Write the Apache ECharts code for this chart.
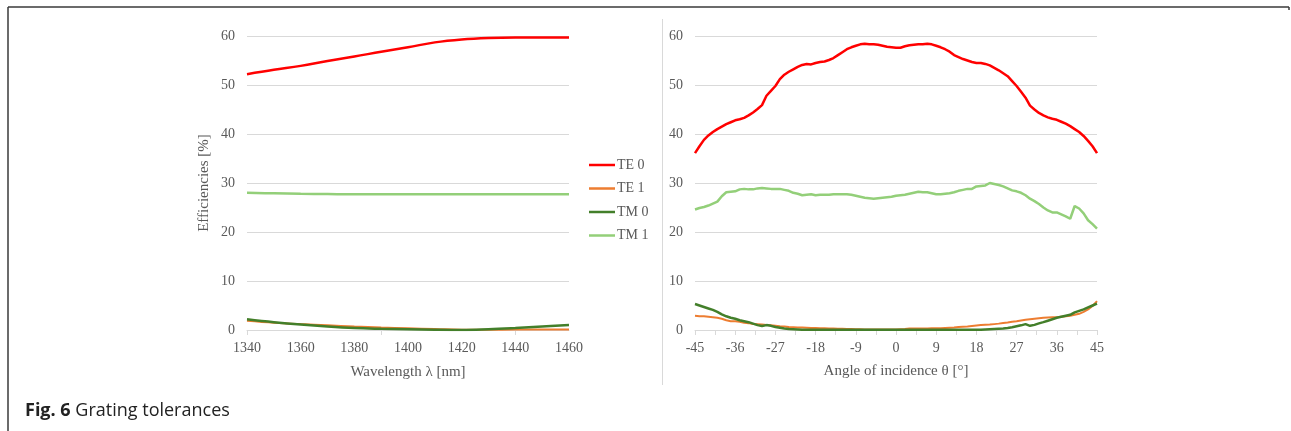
<!DOCTYPE html>
<html>
<head>
<meta charset="utf-8">
<script src="https://cdn.jsdelivr.net/npm/echarts@6/dist/echarts.min.js"></script>
<style>
    html, body { margin: 0; padding: 0; background: #fff; }
    #gratingChart { width: 1291px; height: 431px; }
</style>
</head>
<body>
<div id="gratingChart"></div>
<script>
    // left panel: wavelength sweep
    var wavelengths = [1340, 1350, 1360, 1370, 1380, 1390, 1400, 1410, 1420, 1430, 1440, 1450, 1460];
    var te0Wave = [52.2, 53.1, 53.9, 54.9, 55.8, 56.8, 57.7, 58.7, 59.3, 59.6, 59.7, 59.7, 59.7];
    var te1Wave = [1.9, 1.5, 1.2, 0.95, 0.7, 0.5, 0.35, 0.2, 0.05, 0.05, 0.1, 0.1, 0.1];
    var tm0Wave = [2.2, 1.6, 1.1, 0.7, 0.4, 0.25, 0.15, 0.05, 0.0, 0.15, 0.4, 0.7, 1.0];
    var tm1Wave = [28.0, 27.9, 27.8, 27.75, 27.7, 27.7, 27.7, 27.7, 27.7, 27.7, 27.7, 27.7, 27.7];

    // right panel: angle sweep, one sample per degree from -45 to 45
    var angles = [];
    for (var a = -45; a <= 45; a++) angles.push(a);
    var te0Angle = [36.1, 37.5, 38.8, 39.7, 40.4, 41.0, 41.5, 42.0, 42.4, 42.8,
        43.0, 43.3, 43.8, 44.4, 45.1, 45.9, 47.8, 48.8, 49.8, 51.2,
        52.1, 52.7, 53.2, 53.7, 54.1, 54.3, 54.2, 54.5, 54.7, 54.8,
        55.1, 55.5, 56.1, 56.7, 57.3, 57.7, 58.0, 58.3, 58.4, 58.3,
        58.3, 58.2, 58.0, 57.8, 57.7, 57.6, 57.6, 57.9, 58.1, 58.2,
        58.3, 58.3, 58.4, 58.3, 58.0, 57.7, 57.3, 56.8, 56.1, 55.7,
        55.3, 55.0, 54.7, 54.5, 54.5, 54.3, 54.0, 53.5, 53.0, 52.4,
        51.8, 50.8, 49.8, 48.6, 47.4, 45.8, 45.0, 44.3, 43.8, 43.4,
        43.1, 42.9, 42.5, 42.1, 41.6, 41.0, 40.4, 39.6, 38.6, 37.5, 36.1];
    var te1Angle = [2.9, 2.8, 2.8, 2.7, 2.6, 2.5, 2.3, 2.0, 1.8, 1.8,
        1.7, 1.5, 1.4, 1.2, 1.15, 1.1, 1.0, 0.95, 0.85, 0.75,
        0.7, 0.6, 0.55, 0.5, 0.5, 0.45, 0.4, 0.4, 0.35, 0.35,
        0.3, 0.3, 0.25, 0.25, 0.2, 0.2, 0.15, 0.15, 0.1, 0.1,
        0.1, 0.1, 0.1, 0.1, 0.1, 0.1, 0.15, 0.2, 0.3, 0.3,
        0.3, 0.3, 0.3, 0.35, 0.35, 0.35, 0.4, 0.45, 0.5, 0.6,
        0.65, 0.7, 0.8, 0.9, 1.0, 1.05, 1.1, 1.2, 1.3, 1.45,
        1.55, 1.7, 1.8, 1.95, 2.1, 2.2, 2.3, 2.4, 2.5, 2.55,
        2.6, 2.6, 2.7, 2.8, 2.9, 3.1, 3.3, 3.7, 4.2, 4.9, 5.9];
    var tm0Angle = [5.3, 5.0, 4.7, 4.4, 4.1, 3.7, 3.2, 2.8, 2.5, 2.3,
        2.0, 1.8, 1.6, 1.3, 1.0, 0.8, 1.0, 0.85, 0.6, 0.45,
        0.3, 0.2, 0.15, 0.1, 0.05, 0.05, 0.05, 0.05, 0.05, 0.05,
        0.05, 0.05, 0.05, 0.05, 0.05, 0.05, 0.05, 0.05, 0.05, 0.05,
        0.05, 0.05, 0.05, 0.05, 0.05, 0.05, 0.05, 0.05, 0.05, 0.05,
        0.05, 0.05, 0.05, 0.05, 0.05, 0.05, 0.05, 0.05, 0.05, 0.05,
        0.05, 0.05, 0.05, 0.05, 0.05, 0.1, 0.15, 0.2, 0.25, 0.3,
        0.4, 0.55, 0.75, 0.95, 1.2, 0.85, 1.05, 1.35, 1.6, 1.9,
        2.2, 2.5, 2.7, 2.9, 3.1, 3.6, 3.9, 4.2, 4.6, 5.0, 5.4];
    var tm1Angle = [24.6, 24.9, 25.1, 25.4, 25.8, 26.2, 27.3, 28.1, 28.2, 28.3,
        28.7, 28.8, 28.7, 28.7, 28.9, 29.0, 28.9, 28.8, 28.8, 28.8,
        28.6, 28.4, 28.0, 27.8, 27.5, 27.6, 27.7, 27.5, 27.6, 27.6,
        27.6, 27.7, 27.7, 27.7, 27.7, 27.6, 27.4, 27.2, 27.0, 26.9,
        26.8, 26.9, 27.0, 27.1, 27.2, 27.4, 27.5, 27.6, 27.8, 28.0,
        28.2, 28.1, 28.1, 27.9, 27.7, 27.7, 27.8, 27.9, 28.1, 28.4,
        28.6, 28.8, 28.8, 29.3, 29.4, 29.5, 30.0, 29.8, 29.6, 29.3,
        28.9, 28.5, 28.3, 28.0, 27.5, 26.8, 26.3, 25.7, 25.0, 24.4,
        24.0, 24.0, 23.6, 23.2, 22.7, 25.3, 24.8, 23.8, 22.4, 21.6, 20.7];

    var seriesNames = ['TE 0', 'TE 1', 'TM 0', 'TM 1'];
    var yTicks = [0, 10, 20, 30, 40, 50, 60];

    var labelColor = '#595959';
    var gridColor = '#d9d9d9';
    var serif = 'Liberation Serif';

    function pairs(xs, ys) {
        return xs.map(function (x, i) { return [x, ys[i]]; });
    }

    function yAxisFor(gridIndex, name) {
        return {
            type: 'value',
            gridIndex: gridIndex,
            min: yTicks[0],
            max: yTicks[yTicks.length - 1],
            interval: 10,
            name: name,
            nameLocation: 'middle',
            nameGap: 35,
            nameTextStyle: { color: labelColor, fontFamily: serif, fontSize: 15 },
            axisLine: { show: false },
            axisTick: { show: false },
            axisLabel: { color: labelColor, fontFamily: serif, fontSize: 14, margin: 12 },
            splitLine: { lineStyle: { color: gridColor, width: 1 } }
        };
    }

    function lineSeries(name, xIndex, data, color, width, smooth) {
        return {
            name: name,
            type: 'line',
            xAxisIndex: xIndex,
            yAxisIndex: xIndex,
            data: data,
            smooth: smooth,
            showSymbol: false,
            symbol: 'none',
            animation: false,
            lineStyle: { color: color, width: width },
            itemStyle: { color: color }
        };
    }

    var colors = ['#ff0000', '#ed7d31', '#437f2a', '#93cf79'];

    var option = {
        backgroundColor: '#fff',
        title: {
            left: 25,
            top: 402,
            padding: 0,
            text: '{b|Fig. 6} Grating tolerances',
            textStyle: {
                fontFamily: 'Open Sans',
                fontSize: 18,
                fontWeight: 'normal',
                color: '#222',
                rich: {
                    b: { fontFamily: 'Open Sans', fontSize: 18, fontWeight: 'bold', color: '#222' }
                }
            }
        },
        legend: {
            data: seriesNames,
            orient: 'vertical',
            left: 589,
            top: 157,
            padding: 0,
            icon: 'rect',
            itemWidth: 26,
            itemHeight: 2.5,
            itemGap: 7.5,
            textStyle: { color: labelColor, fontFamily: serif, fontSize: 14, lineHeight: 16, padding: [0, 0, 0, -3] }
        },
        grid: [
            { left: 247, right: 722, top: 36, bottom: 101 },
            { left: 695, right: 194, top: 36, bottom: 101 }
        ],
        xAxis: [
            {
                type: 'category',
                gridIndex: 0,
                data: wavelengths,
                boundaryGap: false,
                name: 'Wavelength λ [nm]',
                nameLocation: 'middle',
                nameGap: 35,
                nameTextStyle: { color: labelColor, fontFamily: serif, fontSize: 15 },
                axisLine: { lineStyle: { color: gridColor } },
                axisTick: { interval: 4, length: 5, lineStyle: { color: gridColor } },
                axisLabel: { interval: 1, color: labelColor, fontFamily: serif, fontSize: 14, margin: 11 },
                splitLine: { show: false }
            },
            {
                type: 'value',
                gridIndex: 1,
                min: -45,
                max: 45,
                interval: 9,
                name: 'Angle of incidence θ [°]',
                nameLocation: 'middle',
                nameGap: 34,
                nameTextStyle: { color: labelColor, fontFamily: serif, fontSize: 15 },
                axisLine: { onZero: false, lineStyle: { color: gridColor } },
                axisTick: { length: 5, lineStyle: { color: gridColor } },
                minorTick: { show: true, splitNumber: 2, length: 5, lineStyle: { color: gridColor } },
                axisLabel: { color: labelColor, fontFamily: serif, fontSize: 14, margin: 11 },
                splitLine: { show: false }
            }
        ],
        yAxis: [
            yAxisFor(0, 'Efficiencies [%]'),
            yAxisFor(1, '')
        ],
        series: [
            lineSeries(seriesNames[0], 0, te0Wave, colors[0], 2.5, 0.4),
            lineSeries(seriesNames[1], 0, te1Wave, colors[1], 2, 0.4),
            lineSeries(seriesNames[2], 0, tm0Wave, colors[2], 2.5, 0.4),
            lineSeries(seriesNames[3], 0, tm1Wave, colors[3], 2.5, 0.4),
            lineSeries(seriesNames[0], 1, pairs(angles, te0Angle), colors[0], 2.5, false),
            lineSeries(seriesNames[1], 1, pairs(angles, te1Angle), colors[1], 2, false),
            lineSeries(seriesNames[2], 1, pairs(angles, tm0Angle), colors[2], 2.5, false),
            lineSeries(seriesNames[3], 1, pairs(angles, tm1Angle), colors[3], 2.5, false)
        ],
        graphic: [
            // figure frame (top and left edge)
            { type: 'line', shape: { x1: 8, y1: 7, x2: 1289, y2: 7 }, style: { stroke: '#3a3a3a', lineWidth: 1.5 } },
            { type: 'line', shape: { x1: 1289, y1: 7, x2: 1289, y2: 10 }, style: { stroke: '#3a3a3a', lineWidth: 1.5 } },
            { type: 'line', shape: { x1: 8, y1: 7, x2: 8, y2: 431 }, style: { stroke: '#3a3a3a', lineWidth: 1.5 } },
            // border between the two panels
            { type: 'line', shape: { x1: 662.5, y1: 19, x2: 662.5, y2: 385 }, style: { stroke: gridColor, lineWidth: 1 } }
        ]
    };

    var myChart = echarts.init(document.getElementById('gratingChart'), null, { renderer: 'canvas' });
    myChart.setOption(option);
</script>
</body>
</html>
